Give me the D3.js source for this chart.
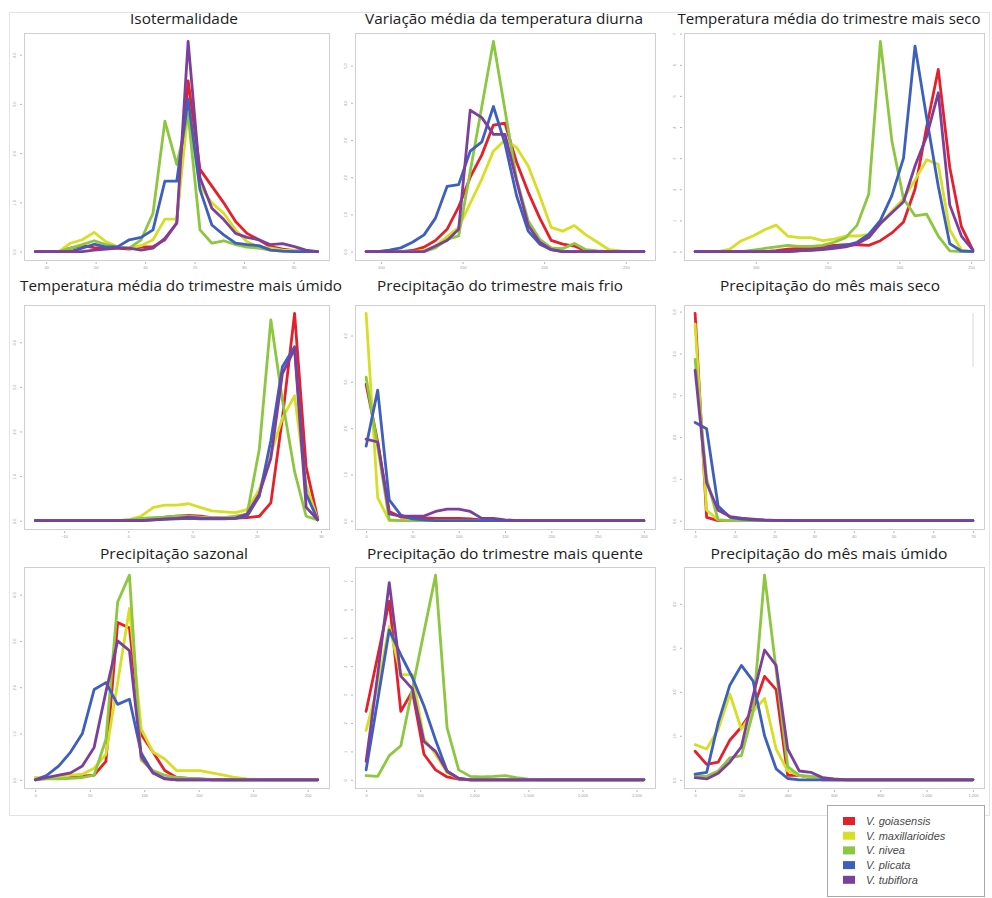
<!DOCTYPE html>
<html>
<head>
<meta charset="utf-8">
<script src="https://cdn.jsdelivr.net/npm/d3@7"></script>
<style>
  body { margin: 0; background: #fff; }
  svg { display: block; }
</style>
</head>
<body>
<svg id="chart" width="992" height="898"></svg>
<script>
// species and colours (legend order = drawing order)
const species = ["V. goiasensis", "V. maxillarioides", "V. nivea", "V. plicata", "V. tubiflora"];
const colors = ["#e5202a", "#d6df23", "#8dc63f", "#3d5fbe", "#7d3f9c"];

const titles = [
  "Isotermalidade",
  "Variação média da temperatura diurna",
  "Temperatura média do trimestre mais seco",
  "Temperatura média do trimestre mais úmido",
  "Precipitação do trimestre mais frio",
  "Precipitação do mês mais seco",
  "Precipitação sazonal",
  "Precipitação do trimestre mais quente",
  "Precipitação do mês mais úmido"
];

// --- Isotermalidade
const isoX = [37.8, 40.2, 42.6, 44.9, 47.3, 49.7, 52.1, 54.5, 56.8, 59.2, 61.6, 64.0, 66.4, 68.7, 71.1, 73.5, 75.9, 78.3, 80.6, 83.0, 85.4, 87.8, 90.2, 92.5, 94.9];
const isoY = [
  [0, 0, 0, 0.07, 0.12, 0.08, 0.07, 0.07, 0.05, 0.09, 0.10, 0.24, 0.58, 3.47, 1.67, 1.33, 0.99, 0.61, 0.37, 0.24, 0.10, 0.05, 0.02, 0.01, 0],
  [0, 0, 0, 0.17, 0.24, 0.39, 0.20, 0.10, 0.07, 0.12, 0.24, 0.66, 0.66, 2.86, 1.33, 0.99, 0.78, 0.44, 0.20, 0.10, 0.07, 0.03, 0.02, 0, 0],
  [0, 0, 0, 0.07, 0.14, 0.22, 0.14, 0.09, 0.07, 0.24, 0.78, 2.65, 1.77, 2.79, 0.44, 0.17, 0.22, 0.14, 0.09, 0.07, 0.03, 0.01, 0, 0, 0],
  [0, 0, 0, 0, 0.07, 0.15, 0.09, 0.10, 0.24, 0.29, 0.44, 1.43, 1.43, 3.10, 1.26, 0.54, 0.34, 0.17, 0.14, 0.12, 0.03, 0.01, 0, 0, 0],
  [0, 0, 0, 0, 0, 0.03, 0.05, 0.07, 0.07, 0.03, 0.07, 0.27, 0.58, 4.27, 1.50, 0.88, 0.65, 0.37, 0.29, 0.24, 0.14, 0.16, 0.10, 0.03, 0]
];

// --- Variação média da temperatura diurna
const diuX = [90.9, 98.0, 105.1, 112.2, 119.3, 126.4, 133.4, 140.5, 147.6, 154.7, 161.8, 168.9, 176.0, 183.1, 190.2, 197.3, 204.3, 211.4, 218.5, 225.6, 232.7, 239.8, 246.9, 254.0, 261.1];
const diuY = [
  [0, 0, 0, 0, 0.03, 0.12, 0.30, 0.60, 1.20, 2.00, 2.60, 3.40, 3.45, 2.40, 1.60, 0.90, 0.30, 0.20, 0.15, 0.02, 0, 0, 0, 0, 0],
  [0, 0, 0, 0, 0, 0.03, 0.15, 0.40, 0.65, 1.30, 1.95, 2.70, 3.00, 2.80, 2.30, 1.50, 0.65, 0.55, 0.70, 0.45, 0.25, 0.05, 0.02, 0, 0],
  [0, 0, 0, 0, 0, 0, 0.10, 0.33, 0.42, 2.16, 3.90, 5.65, 3.80, 1.95, 0.83, 0.33, 0.10, 0.08, 0.22, 0.05, 0.02, 0, 0, 0, 0],
  [0, 0, 0.04, 0.10, 0.25, 0.45, 0.90, 1.75, 1.80, 2.70, 2.95, 3.90, 2.90, 1.50, 0.55, 0.20, 0.05, 0, 0, 0, 0, 0, 0, 0, 0],
  [0, 0, 0, 0, 0, 0, 0.15, 0.30, 0.60, 3.80, 3.60, 3.15, 3.15, 1.90, 0.70, 0.25, 0.05, 0, 0, 0, 0, 0, 0, 0, 0]
];

// --- Temperatura média do trimestre mais seco
const secoX = [57.8, 65.9, 73.9, 82.0, 90.0, 98.1, 106.2, 114.2, 122.3, 130.3, 138.4, 146.5, 154.5, 162.6, 170.6, 178.7, 186.8, 194.8, 202.9, 210.9, 219.0, 227.1, 235.1, 243.2, 251.2];
const secoY = [
  [0, 0, 0, 0, 0, 0, 0, 0.03, 0.08, 0.10, 0.10, 0.15, 0.20, 0.22, 0.22, 0.20, 0.35, 0.60, 0.95, 2.00, 4.00, 5.85, 2.70, 0.80, 0.05],
  [0, 0, 0, 0.08, 0.35, 0.50, 0.70, 0.85, 0.50, 0.45, 0.45, 0.35, 0.40, 0.50, 0.50, 0.55, 0.90, 1.30, 1.70, 2.30, 2.95, 2.80, 0.70, 0.05, 0],
  [0, 0, 0, 0, 0, 0.05, 0.10, 0.15, 0.20, 0.17, 0.17, 0.20, 0.30, 0.45, 0.85, 1.85, 6.75, 3.55, 1.70, 1.15, 1.20, 0.50, 0.02, 0, 0],
  [0, 0, 0, 0, 0, 0, 0, 0, 0, 0.02, 0.05, 0.08, 0.15, 0.20, 0.30, 0.55, 1.00, 1.80, 3.00, 6.60, 4.30, 2.10, 0.25, 0.02, 0],
  [0, 0, 0, 0, 0, 0, 0, 0, 0, 0.03, 0.04, 0.06, 0.10, 0.15, 0.25, 0.45, 0.90, 1.25, 1.60, 2.75, 3.70, 5.10, 1.50, 0.50, 0.05]
];

// --- Temperatura média do trimestre mais úmido
const umidoX = [-14.5, -12.6, -10.8, -9.0, -7.1, -5.3, -3.5, -1.6, 0.2, 2.0, 3.9, 5.7, 7.5, 9.4, 11.2, 13.0, 14.9, 16.7, 18.5, 20.4, 22.2, 24.0, 25.9, 27.7, 29.5];
const umidoY = [
  [0, 0, 0, 0, 0, 0, 0, 0, 0, 0.02, 0.05, 0.08, 0.10, 0.12, 0.10, 0.07, 0.06, 0.06, 0.07, 0.10, 0.40, 2.30, 4.65, 1.20, 0.05],
  [0, 0, 0, 0, 0, 0, 0, 0, 0.03, 0.10, 0.30, 0.35, 0.35, 0.38, 0.30, 0.22, 0.20, 0.18, 0.25, 0.70, 1.50, 2.30, 2.80, 0.80, 0.02],
  [0, 0, 0, 0, 0, 0, 0, 0, 0.02, 0.05, 0.07, 0.08, 0.10, 0.10, 0.08, 0.07, 0.07, 0.10, 0.15, 1.60, 4.50, 2.70, 1.10, 0.10, 0.02],
  [0, 0, 0, 0, 0, 0, 0, 0, 0, 0, 0.02, 0.03, 0.04, 0.05, 0.04, 0.04, 0.04, 0.05, 0.10, 0.55, 1.80, 3.45, 3.90, 0.60, 0.02],
  [0, 0, 0, 0, 0, 0, 0, 0, 0, 0, 0.02, 0.04, 0.05, 0.08, 0.06, 0.05, 0.05, 0.06, 0.15, 0.60, 1.40, 3.30, 3.85, 0.30, 0.02]
];

// --- Precipitação do trimestre mais frio
const frioX = [0, 12.5, 25, 37.5, 50, 62.5, 75, 87.5, 100, 112.5, 125, 137.5, 150, 162.5, 175, 187.5, 200, 212.5, 225, 237.5, 250, 262.5, 275, 287.5, 300];
const frioY = [
  [2.95, 1.70, 0.20, 0.08, 0.06, 0.06, 0.05, 0.05, 0.05, 0.04, 0.02, 0.01, 0, 0, 0, 0, 0, 0, 0, 0, 0, 0, 0, 0, 0],
  [4.48, 0.50, 0, 0, 0, 0, 0, 0, 0, 0, 0, 0, 0, 0, 0, 0, 0, 0, 0, 0, 0, 0, 0, 0, 0],
  [3.10, 1.60, 0.02, 0, 0, 0, 0, 0, 0, 0, 0, 0, 0, 0, 0, 0, 0, 0, 0, 0, 0, 0, 0, 0, 0],
  [1.61, 2.82, 0.45, 0.12, 0.04, 0.02, 0, 0, 0, 0, 0, 0, 0, 0, 0, 0, 0, 0, 0, 0, 0, 0, 0, 0, 0],
  [1.76, 1.70, 0.15, 0.10, 0.10, 0.10, 0.20, 0.25, 0.25, 0.20, 0.05, 0.05, 0.02, 0, 0, 0, 0, 0, 0, 0, 0, 0, 0, 0, 0]
];

// --- Precipitação do mês mais seco
const mesSecoX = [0, 2.9, 5.8, 8.8, 11.7, 14.6, 17.5, 20.4, 23.3, 26.3, 29.2, 32.1, 35.0, 37.9, 40.8, 43.8, 46.7, 49.6, 52.5, 55.4, 58.3, 61.3, 64.2, 67.1, 70.0];
const mesSecoY = [
  [4.96, 0.08, 0, 0, 0, 0, 0, 0, 0, 0, 0, 0, 0, 0, 0, 0, 0, 0, 0, 0, 0, 0, 0, 0, 0],
  [4.70, 0.25, 0.02, 0, 0, 0, 0, 0, 0, 0, 0, 0, 0, 0, 0, 0, 0, 0, 0, 0, 0, 0, 0, 0, 0],
  [3.86, 1.00, 0.02, 0, 0, 0, 0, 0, 0, 0, 0, 0, 0, 0, 0, 0, 0, 0, 0, 0, 0, 0, 0, 0, 0],
  [2.35, 2.20, 0.35, 0.08, 0.04, 0.02, 0.01, 0.01, 0, 0, 0, 0, 0, 0, 0, 0, 0, 0, 0, 0, 0, 0, 0, 0, 0],
  [3.60, 0.90, 0.25, 0.10, 0.06, 0.04, 0.02, 0.01, 0.01, 0, 0, 0, 0, 0, 0, 0, 0, 0, 0, 0, 0, 0, 0, 0, 0]
];

// --- Precipitação sazonal
const sazX = [0, 10.8, 21.6, 32.4, 43.2, 54.0, 64.8, 75.6, 86.4, 97.2, 108.0, 118.8, 129.6, 140.4, 151.2, 162.0, 172.8, 183.6, 194.4, 205.2, 216.0, 226.8, 237.6, 248.4, 259.2];
const sazY = [
  [0, 0.05, 0.07, 0.08, 0.08, 0.10, 0.40, 3.40, 3.28, 0.98, 0.60, 0.20, 0.05, 0.03, 0.02, 0, 0, 0, 0, 0, 0, 0, 0, 0, 0],
  [0.05, 0.03, 0.05, 0.10, 0.12, 0.25, 0.55, 2.10, 3.70, 1.10, 0.60, 0.45, 0.20, 0.20, 0.20, 0.15, 0.10, 0.05, 0.02, 0.01, 0, 0, 0, 0, 0],
  [0, 0.02, 0.02, 0.03, 0.05, 0.10, 0.87, 3.84, 4.42, 0.43, 0.20, 0.10, 0.05, 0.03, 0.02, 0.01, 0, 0, 0, 0, 0, 0, 0, 0, 0],
  [0, 0.10, 0.30, 0.60, 1.00, 1.95, 2.10, 1.63, 1.74, 0.58, 0.15, 0.03, 0, 0, 0, 0, 0, 0, 0, 0, 0, 0, 0, 0, 0],
  [0, 0.05, 0.10, 0.15, 0.30, 0.70, 1.90, 3.00, 2.79, 0.50, 0.15, 0.02, 0, 0, 0, 0, 0, 0, 0, 0, 0, 0, 0, 0, 0]
];

// --- Precipitação do trimestre mais quente
const quenteX = [0, 107, 214, 321, 428, 535, 642, 749, 856, 963, 1070, 1177, 1284, 1391, 1498, 1605, 1712, 1819, 1926, 2033, 2140, 2247, 2354, 2461, 2568];
const quenteY = [
  [2.41, 4.35, 6.29, 2.41, 3.12, 0.90, 0.35, 0.10, 0.02, 0, 0, 0, 0, 0, 0, 0, 0, 0, 0, 0, 0, 0, 0, 0, 0],
  [1.74, 3.30, 5.40, 3.70, 3.70, 1.45, 0.90, 0.25, 0.05, 0, 0, 0, 0, 0, 0, 0, 0, 0, 0, 0, 0, 0, 0, 0, 0],
  [0.15, 0.12, 0.85, 1.20, 3.20, 5.20, 7.20, 1.82, 0.35, 0.12, 0.10, 0.12, 0.15, 0.08, 0.02, 0, 0, 0, 0, 0, 0, 0, 0, 0, 0],
  [0.35, 2.80, 5.27, 4.40, 3.60, 2.60, 1.40, 0.30, 0.05, 0, 0, 0, 0, 0, 0, 0, 0, 0, 0, 0, 0, 0, 0, 0, 0],
  [0.65, 3.70, 6.94, 3.65, 3.20, 1.35, 1.00, 0.30, 0.05, 0, 0, 0, 0, 0, 0, 0, 0, 0, 0, 0, 0, 0, 0, 0, 0]
];

// --- Precipitação do mês mais úmido
const mesUmidoX = [0, 50, 100, 150, 200, 250, 300, 350, 400, 450, 500, 550, 600, 650, 700, 750, 800, 850, 900, 950, 1000, 1050, 1100, 1150, 1200];
const mesUmidoY = [
  [0.65, 0.35, 0.40, 0.90, 1.20, 1.60, 2.35, 2.05, 0.10, 0.10, 0.05, 0, 0, 0, 0, 0, 0, 0, 0, 0, 0, 0, 0, 0, 0],
  [0.80, 0.70, 1.15, 1.95, 1.15, 1.55, 1.85, 0.70, 0.20, 0.10, 0.05, 0, 0, 0, 0, 0, 0, 0, 0, 0, 0, 0, 0, 0, 0],
  [0.10, 0.08, 0.20, 0.50, 0.55, 1.53, 4.65, 2.50, 0.30, 0.10, 0.08, 0.05, 0, 0, 0, 0, 0, 0, 0, 0, 0, 0, 0, 0, 0],
  [0.13, 0.17, 1.30, 2.15, 2.60, 2.25, 1.00, 0.25, 0.03, 0, 0, 0, 0, 0, 0, 0, 0, 0, 0, 0, 0, 0, 0, 0, 0],
  [0.05, 0.02, 0.15, 0.40, 0.75, 1.90, 2.95, 2.60, 0.70, 0.20, 0.17, 0.05, 0.02, 0, 0, 0, 0, 0, 0, 0, 0, 0, 0, 0, 0]
];

const panelX = [isoX, diuX, secoX, umidoX, frioX, mesSecoX, sazX, quenteX, mesUmidoX];
const panelY = [isoY, diuY, secoY, umidoY, frioY, mesSecoY, sazY, quenteY, mesUmidoY];
const xTickCount = [6, 4, 4, 5, 7, 8, 6, 6, 7];

// layout
const colX = [[24, 329], [355, 655], [684, 984]];
const rowY = [[33, 260], [305, 529], [567, 788]];
const titleX = [184, 504, 829, 181, 500, 830, 174, 505, 829];
const titleW = [108, 278, 303, 322, 246, 220, 148, 276, 237];
const titleBase = [24, 291, 559];

const svg = d3.select("#chart");

// outer light frame
svg.append("rect")
  .attr("x", 9.5).attr("y", 12.5)
  .attr("width", 980).attr("height", 803)
  .attr("fill", "none")
  .attr("stroke", "#e3e3e3");

panelX.forEach((xs, k) => {
  const [x0, x1] = colX[k % 3];
  const [y0, y1] = rowY[Math.floor(k / 3)];
  const ys = panelY[k];
  const g = svg.append("g");

  // R style 4% expansion
  const [xmin, xmax] = d3.extent(xs);
  const xpad = (xmax - xmin) * 0.04;
  const x = d3.scaleLinear().domain([xmin - xpad, xmax + xpad]).range([x0, x1]);
  const ymax = d3.max(ys.flat());
  const ypad = ymax * 0.04;
  const y = d3.scaleLinear().domain([-ypad, ymax + ypad]).range([y1, y0]);

  g.append("rect")
    .attr("x", x0 + 0.5).attr("y", y0 + 0.5)
    .attr("width", x1 - x0).attr("height", y1 - y0)
    .attr("fill", "#fff")
    .attr("stroke", "#cfcfcf");

  const xAxis = g.append("g")
    .attr("transform", `translate(0,${y1 + 2})`)
    .call(d3.axisBottom(x).ticks(xTickCount[k]).tickSize(2).tickPadding(2));
  const yAxis = g.append("g")
    .attr("transform", `translate(${x0 - 2},0)`)
    .call(d3.axisLeft(y).tickValues(d3.range(0, Math.floor(ymax + ypad) + 1)).tickSize(2).tickPadding(3));
  [xAxis, yAxis].forEach(a => {
    a.select(".domain").remove();
    a.selectAll(".tick line").attr("stroke", "#b5b5b5");
    a.selectAll(".tick text")
      .attr("fill", "#9a9a9a")
      .style("font-family", "Liberation Sans, Arial, sans-serif")
      .style("font-size", "4px");
  });
  yAxis.selectAll(".tick text")
    .attr("transform", "rotate(-90)")
    .attr("x", 0).attr("y", -6)
    .attr("text-anchor", "middle")
    .attr("dy", "0");

  const line = d3.line()
    .x((d, i) => x(xs[i]))
    .y(d => y(d));

  ys.forEach((vals, s) => {
    g.append("path")
      .datum(vals)
      .attr("d", line)
      .attr("fill", "none")
      .attr("stroke", colors[s])
      .attr("stroke-width", 2.8)
      .attr("stroke-linejoin", "round")
      .attr("stroke-linecap", "round");
  });

  svg.append("text")
    .attr("x", titleX[k])
    .attr("y", titleBase[Math.floor(k / 3)])
    .attr("text-anchor", "middle")
    .attr("textLength", titleW[k])
    .attr("lengthAdjust", "spacingAndGlyphs")
    .style("font-family", "Open Sans, Noto Sans, sans-serif")
    .style("font-size", "15px")
    .attr("fill", "#1d1b1c")
    .text(titles[k]);
});

// faint stray mark inside the dry-month panel
svg.append("line")
  .attr("x1", 973).attr("x2", 973)
  .attr("y1", 313).attr("y2", 367)
  .attr("stroke", "#e4e4e4")
  .attr("stroke-width", 1.5);

// legend
const legend = svg.append("g");
legend.append("rect")
  .attr("x", 827.5).attr("y", 805.5)
  .attr("width", 157).attr("height", 91)
  .attr("fill", "#fff")
  .attr("stroke", "#a8a8a8");

species.forEach((name, s) => {
  const cy = 821 + s * 14.7;
  legend.append("rect")
    .attr("x", 843).attr("y", cy - 4)
    .attr("width", 12).attr("height", 8)
    .attr("fill", colors[s]);
  legend.append("text")
    .attr("x", 866).attr("y", cy + 4)
    .style("font-family", "Liberation Sans, Arial, sans-serif")
    .style("font-size", "11px")
    .style("font-style", "italic")
    .attr("fill", "#4a4a4a")
    .text(name);
});
</script>
</body>
</html>
